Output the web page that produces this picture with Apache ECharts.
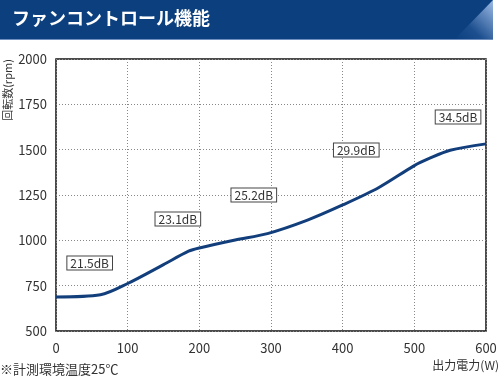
<!DOCTYPE html>
<html><head><meta charset="utf-8">
<script src="https://cdn.jsdelivr.net/npm/echarts@6/dist/echarts.min.js"></script>
<style>html,body{margin:0;padding:0;background:#fff}#c{width:500px;height:378px}</style>
</head><body><div id="c"></div>
<script>
var titleText = 'ファンコントロール機能';
var yAxisTitle = '回転数(rpm)';
var xAxisTitle = '出力電力(W)';
var noteText = '※計測環境温度25℃';
var xTicks = [0, 100, 200, 300, 400, 500, 600];
var yTicks = [500, 750, 1000, 1250, 1500, 1750, 2000];
var powerW = [0, 62, 100, 150, 185, 200, 250, 295, 350, 400, 450, 500, 520, 550, 600];
var rpm = [688, 700, 762, 866, 940, 958, 1002, 1037, 1110, 1195, 1290, 1412, 1450, 1497, 1532];
var noiseLabels = ['21.5dB', '23.1dB', '25.2dB', '29.9dB', '34.5dB'];
var noiseX = [47, 170, 276, 419, 561];
var noiseY = [875, 1117, 1250, 1498, 1680];

var font = '"Noto Sans CJK JP", "Noto Sans", sans-serif';
var chart = echarts.init(document.getElementById('c'), null, {renderer: 'canvas'});
chart.setOption({
  animation: false,
  grid: {left: 56, right: 14, top: 59, bottom: 47, show: true, borderColor: '#111', borderWidth: 1.5, backgroundColor: 'transparent'},
  xAxis: {
    type: 'value', min: xTicks[0], max: xTicks[xTicks.length - 1], interval: 100,
    axisLine: {show: false}, axisTick: {show: false},
    axisLabel: {color: '#333', fontSize: 13, fontFamily: font, margin: 11, formatter: function (v) { return String(v); }},
    splitLine: {show: true, lineStyle: {color: '#888', type: [1, 2], width: 1}}
  },
  yAxis: {
    type: 'value', min: yTicks[0], max: yTicks[yTicks.length - 1], interval: 250,
    axisLine: {show: false}, axisTick: {show: false},
    axisLabel: {color: '#333', fontSize: 13, fontFamily: font, margin: 9, formatter: function (v) { return String(v); }},
    splitLine: {show: true, lineStyle: {color: '#888', type: [1, 2], width: 1}}
  },
  series: [{
    type: 'line', data: powerW.map(function (x, i) { return [x, rpm[i]]; }),
    smooth: 0.3, symbol: 'none', lineStyle: {color: '#123f7c', width: 3}, z: 3
  }, {
    type: 'scatter', symbolSize: 1, itemStyle: {opacity: 0}, z: 5, silent: true,
    data: noiseX.map(function (x, i) { return [x, noiseY[i], noiseLabels[i]]; }),
    label: {
      show: true, position: 'inside', formatter: function (p) { return p.data[2]; },
      color: '#333', fontSize: 12, fontFamily: font, opacity: 1,
      backgroundColor: '#ffffff', borderColor: '#444', borderWidth: 1, padding: [1, 3, 0, 3]
    }
  }],
  graphic: [
    {type: 'rect', shape: {x: 0, y: 0, width: 493, height: 39}, style: {fill: '#0b3f7e'}},
    {type: 'polygon', shape: {points: [[455, 39], [493, 0], [493, 39]]},
      style: {fill: new echarts.graphic.LinearGradient(0, 1, 1, 0, [{offset: 0, color: '#0b3f7e'}, {offset: 0.35, color: '#1d4f8f'}, {offset: 1, color: '#9dbbe6'}])}},
    {type: 'rect', shape: {x: 0, y: 39, width: 493, height: 1}, style: {fill: '#6f8fc0'}},
    {type: 'text', left: 12, top: 9, style: {text: titleText, fill: '#fff', fontSize: 18, fontWeight: 'bold', fontFamily: font}},
    {type: 'text', x: 8, y: 90, rotation: Math.PI / 2, style: {text: yAxisTitle, fill: '#333', fontSize: 11, fontFamily: font, align: 'center', verticalAlign: 'middle'}},
    {type: 'text', right: 1, top: 359, style: {text: xAxisTitle, fill: '#333', fontSize: 12, fontFamily: font}},
    {type: 'text', left: 0, top: 363, style: {text: noteText, fill: '#333', fontSize: 13, fontFamily: font}}
  ]
});
</script></body></html>
